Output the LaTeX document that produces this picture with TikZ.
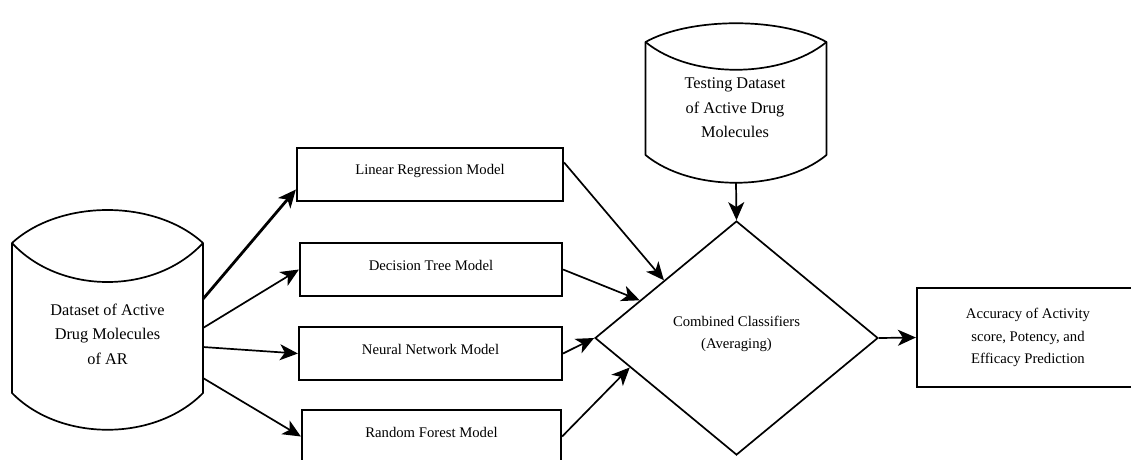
\documentclass[tikz,border=0pt]{standalone}
\usepackage{fontspec}
\setmainfont{LiberationSerif}[Extension=.ttf,UprightFont=*-Regular,BoldFont=*-Bold,ItalicFont=*-Italic]
\usetikzlibrary{shapes.geometric,arrows.meta,calc}
\newcommand\fsbox{\rmfamily\fontsize{14.7pt}{22.5pt}\selectfont}
\newcommand\fscyl{\rmfamily\fontsize{16.3pt}{24.5pt}\selectfont}
\newcommand\lift[1]{\raisebox{4pt}[\height][\depth]{#1}}
\begin{document}
\begin{tikzpicture}[x=1pt,y=-1pt,
  line/.style={line width=1.7pt,line join=round},
  arr/.style={line width=1.7pt,-{Stealth[length=18pt,width=16pt,inset=5pt]}},
  modelbox/.style={draw,line width=2.2pt,minimum height=53pt,inner sep=2pt,font=\fsbox},
  storebody/.style={inner sep=0,outer sep=0},
  storetext/.style={font=\fscyl,align=center,inner sep=0}
]
\useasboundingbox (0,0) rectangle (1131,459);

% training data store
\node[storebody,minimum width=191pt,minimum height=150pt] (data) at (107.5,318) {};
\draw[line] (data.north west) .. controls +(48,-44) and +(-48,-44) .. (data.north east)
  -- (data.south east) .. controls +(-48,49) and +(48,49) .. (data.south west) -- cycle;
\draw[line] (data.north west) .. controls +(48,52) and +(-48,52) .. (data.north east);
\node[storetext] (datatext) at (107.5,334) {Dataset of Active\\Drug Molecules\\of AR};

% testing data store
\node[storebody,minimum width=181pt,minimum height=113pt] (test) at (736,98.5) {};
\draw[line] (test.north west) .. controls +(45,-25) and +(-45,-25) .. (test.north east)
  -- (test.south east) .. controls +(-45,37) and +(45,37) .. (test.south west) -- cycle;
\draw[line] (test.north west) .. controls +(45,37) and +(-45,37) .. (test.north east);
\node[storetext] (testtext) at (735,108) {Testing Dataset\\of Active Drug\\Molecules};

% models
\node[modelbox,minimum width=266pt] (lr) at (430,174.5) {\lift{Linear Regression Model}};
\node[modelbox,minimum width=262pt] (dt) at (431,269.5) {\lift{Decision Tree Model}};
\node[modelbox,minimum width=263pt] (nn) at (430.5,353.5) {\lift{Neural Network Model}};
\node[modelbox,minimum width=259pt] (rf) at (431.5,436.5) {\lift{Random Forest Model}};

% combination and result
\node[diamond,draw,line width=1.7pt,minimum width=283pt,minimum height=234pt,inner sep=0,
  align=center,font=\fsbox] (comb) at (736.5,338) {\lift{Combined Classifiers}\\\lift{(Averaging)}};
\node[draw,line width=2.2pt,minimum width=222pt,minimum height=99pt,inner sep=2pt,
  align=center,font=\fsbox] (out) at (1028,337.5)
  {Accuracy of Activity\\score, Potency, and\\Efficacy Prediction};

% data to models
\draw[arr,line width=2.8pt] ([yshift=19pt]data.east) -- ([yshift=-15pt]lr.west);
\draw[arr] ([yshift=-10pt]data.east) -- (dt.west);
\draw[arr] ([yshift=-29pt]data.east) -- (nn.west);
\draw[arr] ([yshift=-60pt]data.east) -- (rf.west);

% models to combiner
\draw[arr] ([yshift=12pt]lr.east) -- ($(comb.west)!0.49!(comb.north)$);
\draw[arr] (dt.east) -- ($(comb.west)!0.32!(comb.north)$);
\draw[arr] (nn.east) -- (comb.west);
\draw[arr] (rf.east) -- ($(comb.west)!0.25!(comb.south)$);

% testing data and result
\draw[arr] ([yshift=-28pt]test.south) -- (comb.north);
\draw[arr] (comb.east) -- (out.west);
\end{tikzpicture}
\end{document}
